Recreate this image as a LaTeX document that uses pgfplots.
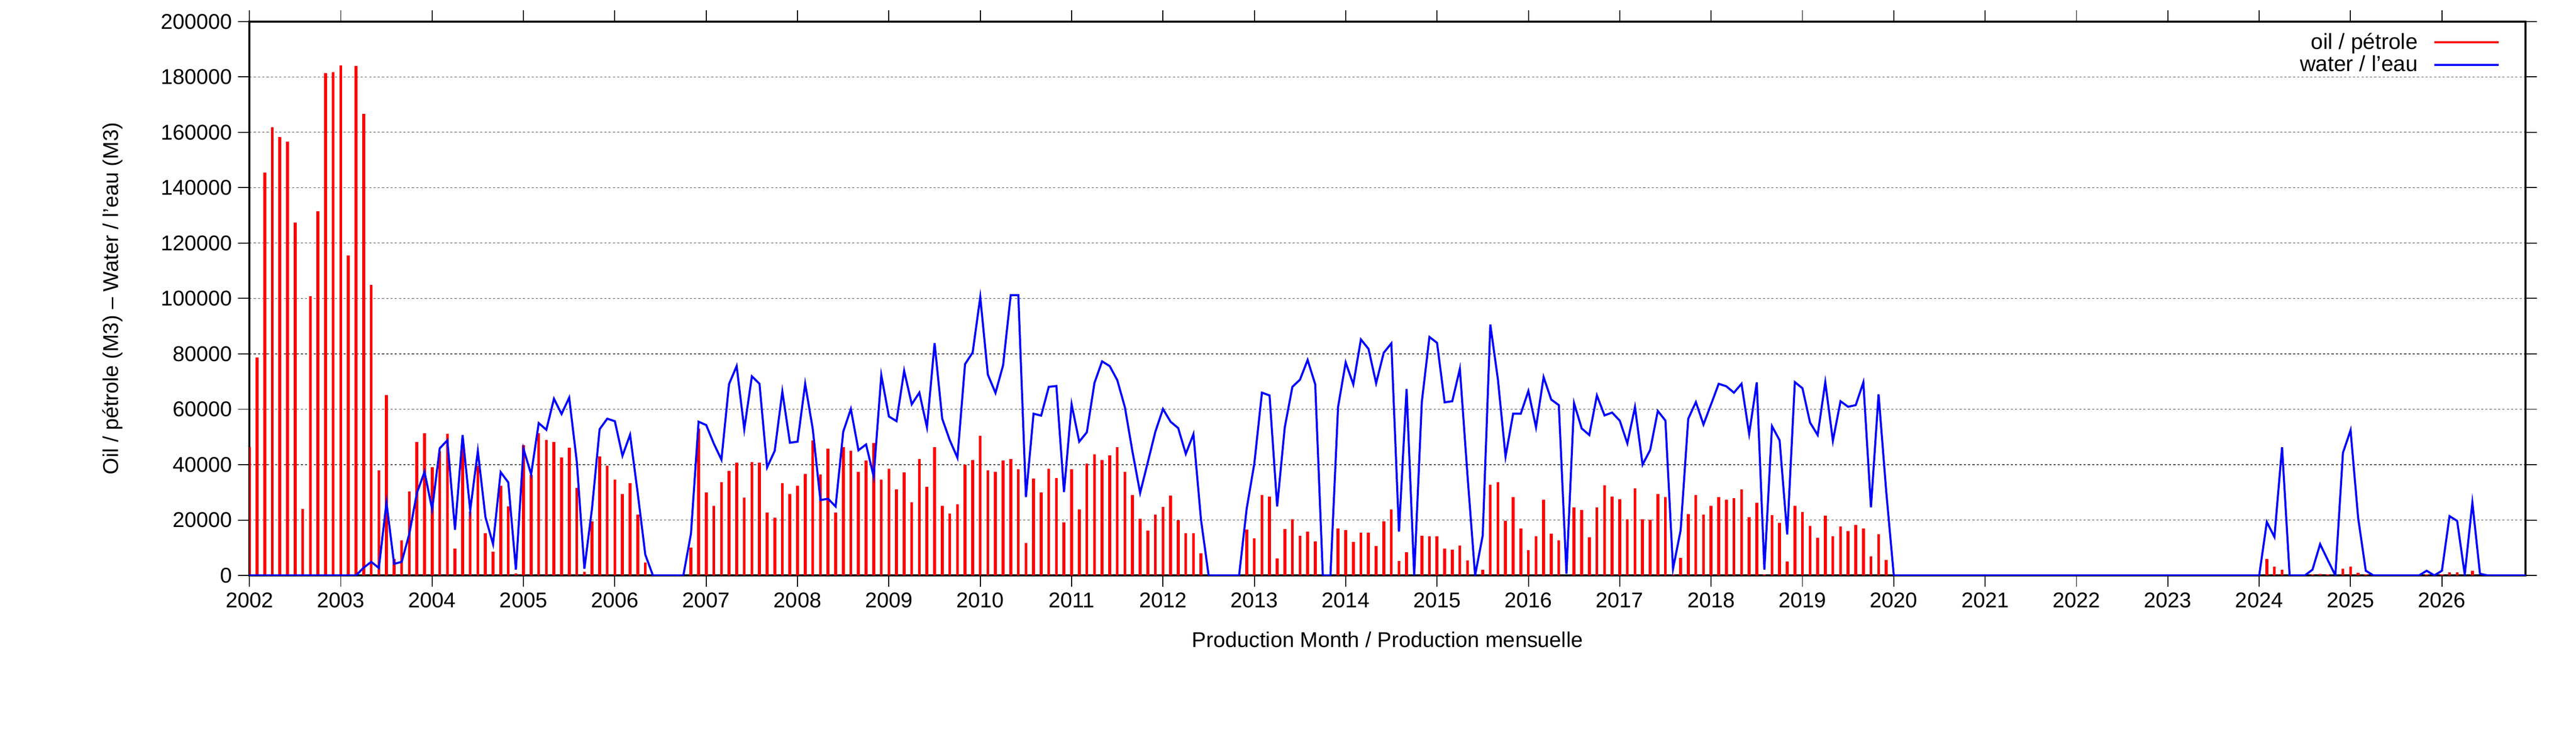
\documentclass[border=0pt]{standalone}
\usepackage{fontspec}
\setmainfont{Liberation Sans}
\usepackage{pgfplots}
\usepackage{pgfplotstable}
\pgfplotsset{compat=1.18}
\pgfplotstableread{
i oil water
0 46400 0
1 78700 0
2 145400 0
3 161900 0
4 158300 0
5 156600 0
6 127500 0
7 24100 0
8 100800 0
9 131500 0
10 181400 0
11 181700 0
12 184100 0
13 115600 0
14 184000 0
15 166600 2800
16 104900 4900
17 38000 2700
18 65200 26300
19 5900 4200
20 12700 4900
21 30300 15000
22 48100 29800
23 51400 37400
24 39000 23900
25 44800 45900
26 51100 48800
27 9700 16500
28 48000 50700
29 23100 23500
30 39700 44900
31 15200 21100
32 8600 11300
33 32400 37300
34 25000 33600
35 700 2100
36 47000 45700
37 36200 36500
38 51400 55000
39 49000 52600
40 48100 63800
41 42600 58300
42 46200 64200
43 31700 41100
44 1400 2400
45 19600 24200
46 43000 52800
47 39600 56600
48 34600 55700
49 29400 43200
50 33400 50800
51 22000 29800
52 4600 7500
53 0 0
57 0 0
58 10100 15100
59 53100 55500
60 30000 54300
61 25200 47600
62 33600 41800
63 37700 69100
64 40800 75600
65 28100 52800
66 41000 71900
67 40800 69200
68 22700 39000
69 20800 45000
70 33400 66400
71 29400 47900
72 32400 48300
73 36700 69200
74 48800 52800
75 36500 27200
76 45700 27700
77 22700 24900
78 46300 51900
79 45000 60100
80 37400 45200
81 41400 47300
82 47900 35700
83 34600 72300
84 38600 57400
85 31100 55700
86 37300 73900
87 26500 61800
88 42100 66000
89 32000 53500
90 46300 83900
91 25100 56600
92 22300 48800
93 25700 42500
94 40000 76300
95 41700 80500
96 50400 100500
97 37900 72500
98 37400 65900
99 41400 75900
100 42100 101200
101 38300 101200
102 11800 28300
103 34900 58400
104 30000 57700
105 38600 68100
106 35200 68400
107 19100 30100
108 38400 61800
109 23900 48300
110 40400 51700
111 43800 69500
112 41700 77300
113 43400 75600
114 46400 70500
115 37400 60700
116 29100 44600
117 20400 29800
118 16200 40800
119 22000 51900
120 24800 60100
121 28900 55500
122 20000 53200
123 15200 43900
124 15300 51000
125 8000 20000
126 0 0
130 0 0
131 16600 24200
132 13400 40400
133 29100 66000
134 28400 65000
135 6200 24900
136 16700 53500
137 20300 68100
138 14400 70700
139 15800 77800
140 12200 69000
141 0 0
142 0 0
143 17000 60800
144 16300 76900
145 12100 69000
146 15500 85200
147 15500 81800
148 10600 69400
149 19600 80400
150 23900 83800
151 5200 15800
152 8300 67300
153 0 0
154 14400 62600
155 14100 86100
156 14100 84000
157 9600 62500
158 9300 62900
159 10800 74600
160 5500 36200
161 0 0
162 2000 14400
163 32800 90600
164 33600 70700
165 19700 42900
166 28300 58400
167 17000 58400
168 9100 66600
169 14200 53500
170 27400 71600
171 15100 63500
172 12700 61500
173 0 600
174 24500 62200
175 23600 53100
176 13700 50700
177 24500 65000
178 32500 57800
179 28400 58800
180 27600 55900
181 20300 47700
182 31400 60800
183 20300 40000
184 20100 45300
185 29400 59400
186 28300 55900
187 300 2400
188 6300 16300
189 22100 56600
190 29100 62600
191 22000 54500
192 25100 61800
193 28300 69200
194 27400 68300
195 27900 66000
196 31100 69200
197 21100 51100
198 26300 69700
199 400 2100
200 21700 53900
201 19000 48800
202 5100 14800
203 25100 69800
204 22900 67600
205 17900 55200
206 13500 50700
207 21500 69800
208 14100 48600
209 17600 62900
210 16000 60900
211 18200 61500
212 17000 69700
213 6900 24600
214 14900 65400
215 5600 30500
216 0 0
264 0 0
265 5900 19300
266 3100 13900
267 2000 46300
268 0 0
270 0 0
271 300 2100
272 600 11300
273 400 5600
274 0 0
275 2500 44300
276 3100 52400
277 1000 20700
278 400 1700
279 0 0
285 0 0
286 400 1700
287 0 0
288 400 1700
289 1100 21400
290 1100 19700
291 0 300
292 1700 26300
293 0 600
294 0 0
299 0 0
}\datatable
\begin{document}
\begin{tikzpicture}
\useasboundingbox (-151.7pt,-105.4pt) rectangle (1414.9pt,350.0pt);
\begin{axis}[
  at={(0pt,0pt)}, anchor=south west,
  scale only axis, width=1384.3pt, height=336.9pt,
  xmin=0, xmax=299, ymin=0, ymax=200000,
  xtick={0,12,24,36,48,60,72,84,96,108,120,132,144,156,168,180,192,204,216,228,240,252,264,276,288},
  xticklabels={2002,2003,2004,2005,2006,2007,2008,2009,2010,2011,2012,2013,2014,2015,2016,2017,2018,2019,2020,2021,2022,2023,2024,2025,2026},
  ytick={0,20000,40000,60000,80000,100000,120000,140000,160000,180000,200000},
  scaled y ticks=false,
  /pgf/number format/assume math mode=true,
  yticklabel style={/pgf/number format/fixed, /pgf/number format/1000 sep={}},
  tick label style={font=\fontsize{13pt}{15pt}\selectfont},
  tick align=outside,
  major tick length=6.9pt,
  tick style={black, line width=0.6pt},
  axis line style={black, line width=1.3pt},
  ymajorgrids=true,
  major grid style={black!70, line width=0.35pt, dash pattern=on 1.3pt off 1.3pt},
  xlabel={Production Month / Production mensuelle},
  ylabel={Oil / pétrole (M3) – Water / l’eau (M3)},
  every axis x label/.style={at={(axis description cs:0.5,-0.1158)}, anchor=center,
    font=\fontsize{13pt}{15pt}\selectfont},
  every axis y label/.style={at={(axis description cs:-0.0602,0.5)}, rotate=90, anchor=center,
    font=\fontsize{13pt}{15pt}\selectfont},
  legend plot pos=right,
  legend cell align=right,
  legend style={draw=none, fill=none, at={(axis description cs:0.9887,0.986)}, anchor=north east,
    font=\fontsize{13.3pt}{15pt}\selectfont, row sep=-1.5pt, inner sep=0pt,
    /tikz/every odd column/.append style={column sep=7.5pt}},
]
\addplot[ycomb, red, line width=1.75pt, mark=none,
  legend image code/.code={\draw[red, line width=1.2pt] (0pt,0pt) -- (39pt,0pt);}]
  table[x=i, y=oil] {\datatable};
\addlegendentry{oil / pétrole}
\addplot[blue, line width=1.25pt, mark=none,
  legend image code/.code={\draw[blue, line width=1.2pt] (0pt,0pt) -- (39pt,0pt);}]
  table[x=i, y=water] {\datatable};
\addlegendentry{water / l’eau}
\end{axis}
\end{tikzpicture}
\end{document}
